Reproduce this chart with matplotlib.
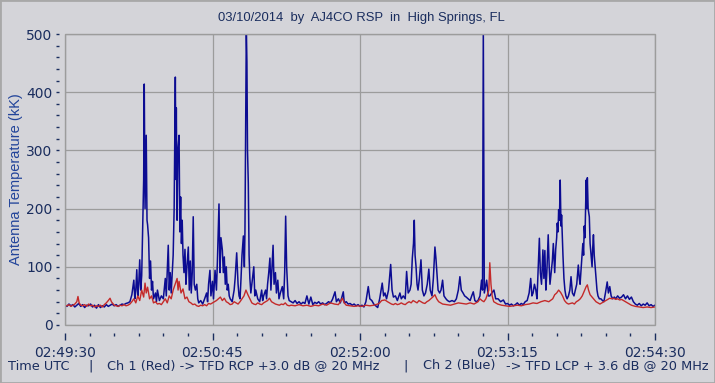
import matplotlib
matplotlib.use("Agg")
import matplotlib.pyplot as plt
from matplotlib.patches import Rectangle
from matplotlib.ticker import MultipleLocator

# ── Data (seconds after 02:49:30 UTC, antenna temperature in kK) ─────────────

blue_t = [
    0, 1, 2, 3, 4, 5, 6, 7, 8, 9, 10, 11, 12, 13, 14, 15, 16, 17, 18, 19,
    20, 21, 22, 23, 24, 25, 26, 27, 28, 29, 30, 31, 32,
    33, 34, 35, 35.5, 36, 36.5, 37, 37.5, 38, 38.5, 39, 39.5, 40, 40.3, 40.7,
    41.3, 41.7, 42, 42.5, 43, 43.5, 44, 44.5, 45, 46, 46.5, 47, 48, 49, 50,
    51, 51.5, 52.5, 53, 53.5, 54, 55, 55.5, 56.1, 56.4, 56.6, 57, 57.4, 58,
    58.4, 58.8, 59.2, 59.6, 60, 60.5, 61, 61.5, 62, 62.7, 63.2, 63.7, 64.2,
    64.7, 65.2, 65.7, 66.3, 67, 67.5, 68, 69, 70, 71, 72, 72.5, 73, 73.7,
    74.2, 75, 75.5, 76.3, 77, 77.5, 78.3, 78.8, 79.3, 80, 80.5, 81, 81.5, 82,
    82.5, 83, 83.5, 84, 85, 86, 86.5, 87.3, 88, 88.5, 89, 89.5, 90, 90.7,
    91.2, 91.5, 92.2, 92.5, 92.8, 93.2, 93.6, 94, 94.5, 95, 96, 96.5, 97, 98,
    99, 100, 100.5, 101, 102, 102.5, 103, 103.6, 104.2, 104.7, 105.3, 105.8,
    106.3, 107, 107.5, 108.2, 108.8, 109.5, 110.5, 111.2, 111.7, 112.2,
    112.7, 113.4, 114, 115,
    116, 117, 118, 119, 120, 121, 122, 123, 124, 125, 126, 127, 128, 129,
    130, 131, 132, 133, 134, 135, 136, 137.3, 138, 139, 140, 141.5, 142, 143,
    144, 145, 146, 147, 148, 149, 150,
    151, 152, 153, 154.2, 155, 156, 157, 158, 159, 160, 161.3, 162, 162.7,
    163.5, 164.5, 165.6, 166.3, 167, 168, 169, 170.3, 171, 172, 173, 173.7,
    174.5, 175.4, 176, 176.6, 177.2, 177.6, 178, 178.5, 179, 179.5, 180.2,
    181, 181.7, 182.5, 183.3, 184.2, 185, 185.7, 186.6, 187.3, 188.1, 188.6,
    189.1, 189.7, 190.5, 191.2, 192, 192.7, 193.7, 194.5, 195.5, 196.8, 198,
    199, 200, 200.8, 201.5, 202.4, 203.2, 204, 205, 206, 206.8, 207.6, 208.4,
    209.2, 210, 211, 211.8, 212.3, 212.7, 213.2, 214.4, 215.2, 216, 217,
    218.1, 219, 220.2, 221.5, 222.9, 224,
    225, 226, 227, 228, 229, 230, 231, 232, 233, 234, 235,
    236, 236.8, 237.4, 238, 238.7, 239.4, 240, 240.5, 241.2, 241.7, 242.3,
    243, 243.5, 244, 244.5, 245, 245.7, 246.2, 246.6, 247.2, 247.8, 248.3,
    248.7, 249, 249.5, 250, 250.3, 250.7, 251, 251.4, 251.8, 252.2, 252.5,
    252.9, 253.2, 253.7, 254.2, 254.7, 255.3, 256, 256.7, 257.3, 258, 258.8,
    259.5, 260.2, 261, 261.5, 261.9, 262.5, 263.3, 263.7, 264, 264.4, 265,
    265.3, 265.6, 266, 266.6, 267, 267.5, 268, 268.3, 268.7, 269.1, 269.5,
    270, 270.5, 271, 271.7, 272.5, 273.3, 274, 274.8, 275.7, 276.3, 277,
    277.7, 278.5, 279.3, 280, 281, 282, 283, 284, 285, 286, 287, 288, 289,
    290, 291, 292, 293, 294, 295, 296, 297, 298, 299, 300,
]
blue_v = [
    34, 32, 36, 33, 35, 31, 34, 37, 32, 35, 30, 34, 33, 36, 31, 34, 29, 35,
    30, 33, 31, 35, 32, 34, 36, 33, 35, 32, 34, 36, 35, 37, 38,
    40, 52, 77, 45, 60, 95, 50, 70, 112, 60, 85, 170, 250, 414, 200,
    326, 180, 172, 150, 80, 110, 60, 75, 45, 55, 40, 60, 42, 50, 45,
    80, 50, 137, 60, 90, 55, 120, 200, 426, 250, 373, 180, 300, 326,
    160, 220, 140, 180, 120, 90, 130, 70, 100, 134, 60, 110, 55,
    90, 186, 70, 60, 70, 45, 38, 42, 36, 45, 55, 40, 70, 94,
    50, 75, 45, 94, 60, 110, 208, 90, 150, 129, 90, 117, 70, 100,
    60, 70, 50, 45, 40, 60, 80, 124, 70, 50, 45, 80, 120, 153,
    100, 160, 510, 452, 300, 244, 120, 80, 55, 70, 100, 50, 60, 45,
    40, 60, 42, 50, 60, 45, 70, 90, 115, 60, 100, 137,
    70, 90, 55, 77, 45, 55, 66, 45, 90, 187,
    100, 50, 42, 40,
    38, 42, 37, 40, 36, 39, 37, 50, 36, 48, 35, 39, 37, 40,
    36, 38, 35, 37, 40, 38, 44, 57, 40, 45, 38, 57, 38, 40,
    36, 37, 34, 36, 33, 35, 32,
    34, 31, 40, 66, 45, 42, 36, 33, 30, 45, 72, 50, 55,
    45, 60, 104, 60, 48, 50, 42, 55, 45, 50, 45, 92,
    55, 60, 70, 115, 140, 180, 120, 100, 70, 60, 80,
    112, 60, 50, 55, 70, 96, 60, 50, 80, 134, 115,
    90, 60, 55, 60, 77, 50, 45, 42, 40, 42, 40,
    45, 60, 83, 60, 55, 50, 48, 45, 42, 50, 57, 42,
    40, 42, 50, 77, 60, 510, 55, 77, 50, 50, 55,
    60, 45, 45, 40, 43, 36,
    37, 34, 36, 33, 35, 38, 34, 37, 35, 40, 42,
    55, 80, 50, 55, 70, 60, 45, 90, 149, 90, 70,
    129, 80, 128, 60, 90, 155, 100, 70, 90, 110, 140,
    110, 90, 130, 150, 175, 160, 198, 180, 249, 170, 189,
    150, 120, 80, 60, 50, 45, 50, 60, 83, 55, 50,
    60, 70, 103, 80, 70, 100, 140, 120, 170, 150, 249,
    200, 253, 200, 186, 140, 120, 100, 130, 155, 120, 103,
    80, 60, 50, 45, 45, 42, 40, 55, 74, 55, 66,
    50, 45, 48, 45, 50, 46, 48, 52, 45, 50, 44, 48, 40,
    36, 34, 37, 33, 36, 34, 38, 33, 35, 32, 34,
]

red_t = [
    0, 1, 2, 3, 4, 5, 6, 6.6, 7.2, 8, 9, 10, 11, 12, 13, 14, 15, 16, 17, 18,
    19, 20, 21, 22, 22.9, 23.6, 24.5, 25, 26, 27, 28, 29, 30, 31, 32, 33, 34,
    35, 36, 37, 38, 39, 40, 40.7, 41.3, 42, 43, 44, 45, 46, 47, 48, 49, 50,
    51, 52, 53, 54, 55, 56, 57, 57.5, 58, 59, 60, 61, 62, 63, 64, 65, 66, 67,
    68, 69, 70, 71, 72, 73, 74, 75, 76, 77, 78, 79, 80, 81, 82, 83, 84, 85,
    86, 87, 88, 89, 90, 91, 92, 93, 94, 95, 96, 97, 98, 99, 100, 101, 102,
    103, 104, 105, 106, 107, 108, 109, 110, 111, 112, 113, 114, 115, 117,
    119, 121, 123, 125, 127, 129, 131, 133, 135, 137, 139, 140, 141, 142,
    143, 145, 147, 149, 151, 153, 155, 157, 159, 160, 161, 162.7, 164, 165,
    166, 167, 168, 169, 170, 171, 172, 173, 174, 175, 176, 177, 178, 179,
    180, 181, 182, 183, 184, 185, 186, 187, 188.1, 189, 190, 191, 192, 194,
    196, 198, 200, 202, 204, 206, 208, 210, 211, 212, 213, 214, 215.5, 216,
    216.6, 217.2, 218, 219, 220, 222, 224, 226, 228, 230, 232, 234, 236, 238,
    240, 242, 244, 246, 248, 249, 250, 251, 252, 253, 254, 255, 256, 257,
    258, 259, 260, 261, 262, 263, 264, 265, 265.6, 266.2, 267, 268, 269, 270,
    271, 272, 273, 274, 275, 276, 277, 278, 279, 280, 281, 282, 283, 284,
    285, 286, 287, 288, 289, 290, 292, 294, 296, 298, 300,
]
red_v = [
    34, 33, 35, 32, 34, 36, 40, 49, 38, 34, 33, 35, 32, 36, 33, 34, 31, 33,
    32, 34, 31, 35, 38, 42, 46, 40, 36, 34, 33, 32, 34, 33, 35, 33, 34, 36,
    40, 45, 38, 50, 42, 60, 48, 72, 55, 65, 45, 50, 38, 40, 36, 37, 35, 40,
    45, 38, 50, 45, 60, 70, 80, 60, 75, 55, 62, 45, 48, 40, 38, 35, 36, 33,
    32, 34, 33, 35, 33, 37, 36, 38, 40, 42, 45, 48, 42, 46, 40, 38, 35, 36,
    40, 38, 36, 40, 45, 50, 60, 52, 45, 38, 36, 35, 38, 36, 35, 38, 40,
    42, 46, 40, 38, 36, 35, 34, 36, 35, 38, 34, 33, 34, 33,
    35, 33, 34, 32, 34, 33, 36, 34, 38, 36, 35, 40, 46, 38,
    34, 33, 32, 33, 32, 34, 33, 34, 36, 38, 42, 43, 40, 38,
    36, 35, 37, 35, 36, 38, 36, 35, 38, 40, 38, 42, 40, 38,
    42, 40, 38, 37, 40, 42, 45, 48, 52, 45, 40, 38, 36, 35,
    34, 36, 38, 37, 36, 38, 36, 40, 45, 42, 40, 45, 60, 107,
    70, 50, 40, 38, 36, 34, 33, 32, 33, 34, 33, 35, 36, 38,
    37, 40, 42, 40, 45, 52, 55, 60, 56, 50, 42, 38, 36, 37,
    38, 36, 40, 42, 45, 50, 58, 66, 69, 60, 52, 48, 44, 40,
    38, 36, 38, 40, 42, 44, 46, 45, 46, 44, 45, 43, 44, 42,
    40, 38, 36, 34, 33, 32, 31, 30, 31, 30, 31,
]

tick_pos = [0, 75, 150, 225, 300]
tick_labels = ["02:49:30", "02:50:45", "02:52:00", "02:53:15", "02:54:30"]

# ── Style ────────────────────────────────────────────────────────────────────

BG = "#d4d4d9"
GRID = "#9c9c9c"
TEXT = "#1a2d5e"
BLUE = "#0c0c92"
RED = "#c42a2a"

fig = plt.figure(figsize=(7.15, 3.83), dpi=100, facecolor=BG)
ax = fig.add_axes([65 / 715, 58 / 383, 590 / 715, 291 / 383], facecolor=BG)

ax.plot(blue_t, blue_v, color=BLUE, lw=1.1, zorder=3)
ax.plot(red_t, red_v, color=RED, lw=1.0, zorder=4)

ax.set_xlim(0, 300)
ax.set_ylim(0, 500)

ax.set_xticks(tick_pos)
ax.set_xticklabels(tick_labels, fontsize=9, family="DejaVu Sans")
ax.xaxis.set_minor_locator(MultipleLocator(12.5))
ax.yaxis.set_minor_locator(MultipleLocator(20))
ax.set_yticks([0, 100, 200, 300, 400, 500])
ax.set_yticklabels(["0", "100", "200", "300", "400", "500"], fontsize=10,
                   family="Liberation Sans")

ax.grid(True, which="major", color=GRID, lw=0.9, zorder=1)

# frame drawn in gray; tick rows sit a few pixels away from the frame
for side in ("top", "right"):
    ax.spines[side].set_visible(False)
ax.spines["bottom"].set_position(("outward", 6))
ax.spines["bottom"].set_color("none")
ax.spines["left"].set_position(("outward", 4))
ax.spines["left"].set_color("none")
ax.add_patch(Rectangle((0, 0), 1, 1, transform=ax.transAxes, fill=False,
                       edgecolor=GRID, lw=1.0, clip_on=False, zorder=5))

ax.tick_params(axis="x", which="major", length=5, width=1, color=TEXT,
               labelcolor=TEXT, pad=4)
ax.tick_params(axis="x", which="minor", length=2, width=1, color=TEXT)
ax.tick_params(axis="y", which="major", length=2, width=1, color=TEXT,
               labelcolor=TEXT, pad=3)
ax.tick_params(axis="y", which="minor", length=2, width=1, color=TEXT)

ax.set_ylabel("Antenna Temperature (kK)", fontsize=10.5, color="#22449a",
              family="Liberation Sans", labelpad=2)

fig.text(361 / 715, 1 - 18 / 383,
         "03/10/2014  by  AJ4CO RSP  in  High Springs, FL",
         ha="center", va="center", fontsize=9.4, color=TEXT,
         family="Liberation Sans")

# bottom caption, pieces placed at their own x positions
caption_y = 1 - 366 / 383
pieces = [
    (8, "Time UTC"),
    (88, "|"),
    (107, "Ch 1 (Red) -> TFD RCP +3.0 dB @ 20 MHz"),
    (403, "|"),
    (423, "Ch 2 (Blue)"),
    (506, "-> TFD LCP + 3.6 dB @ 20 MHz"),
]
for px, s in pieces:
    fig.text(px / 715, caption_y, s, ha="left", va="center", fontsize=9.3,
             color=TEXT, family="DejaVu Sans")

# thin window border
fig.patches.append(Rectangle((0, 0), 1, 1, transform=fig.transFigure,
                             fill=False, edgecolor="#a8a8a8", lw=2))

fig.savefig("out.png", dpi=100, facecolor=BG)
plt.close(fig)
